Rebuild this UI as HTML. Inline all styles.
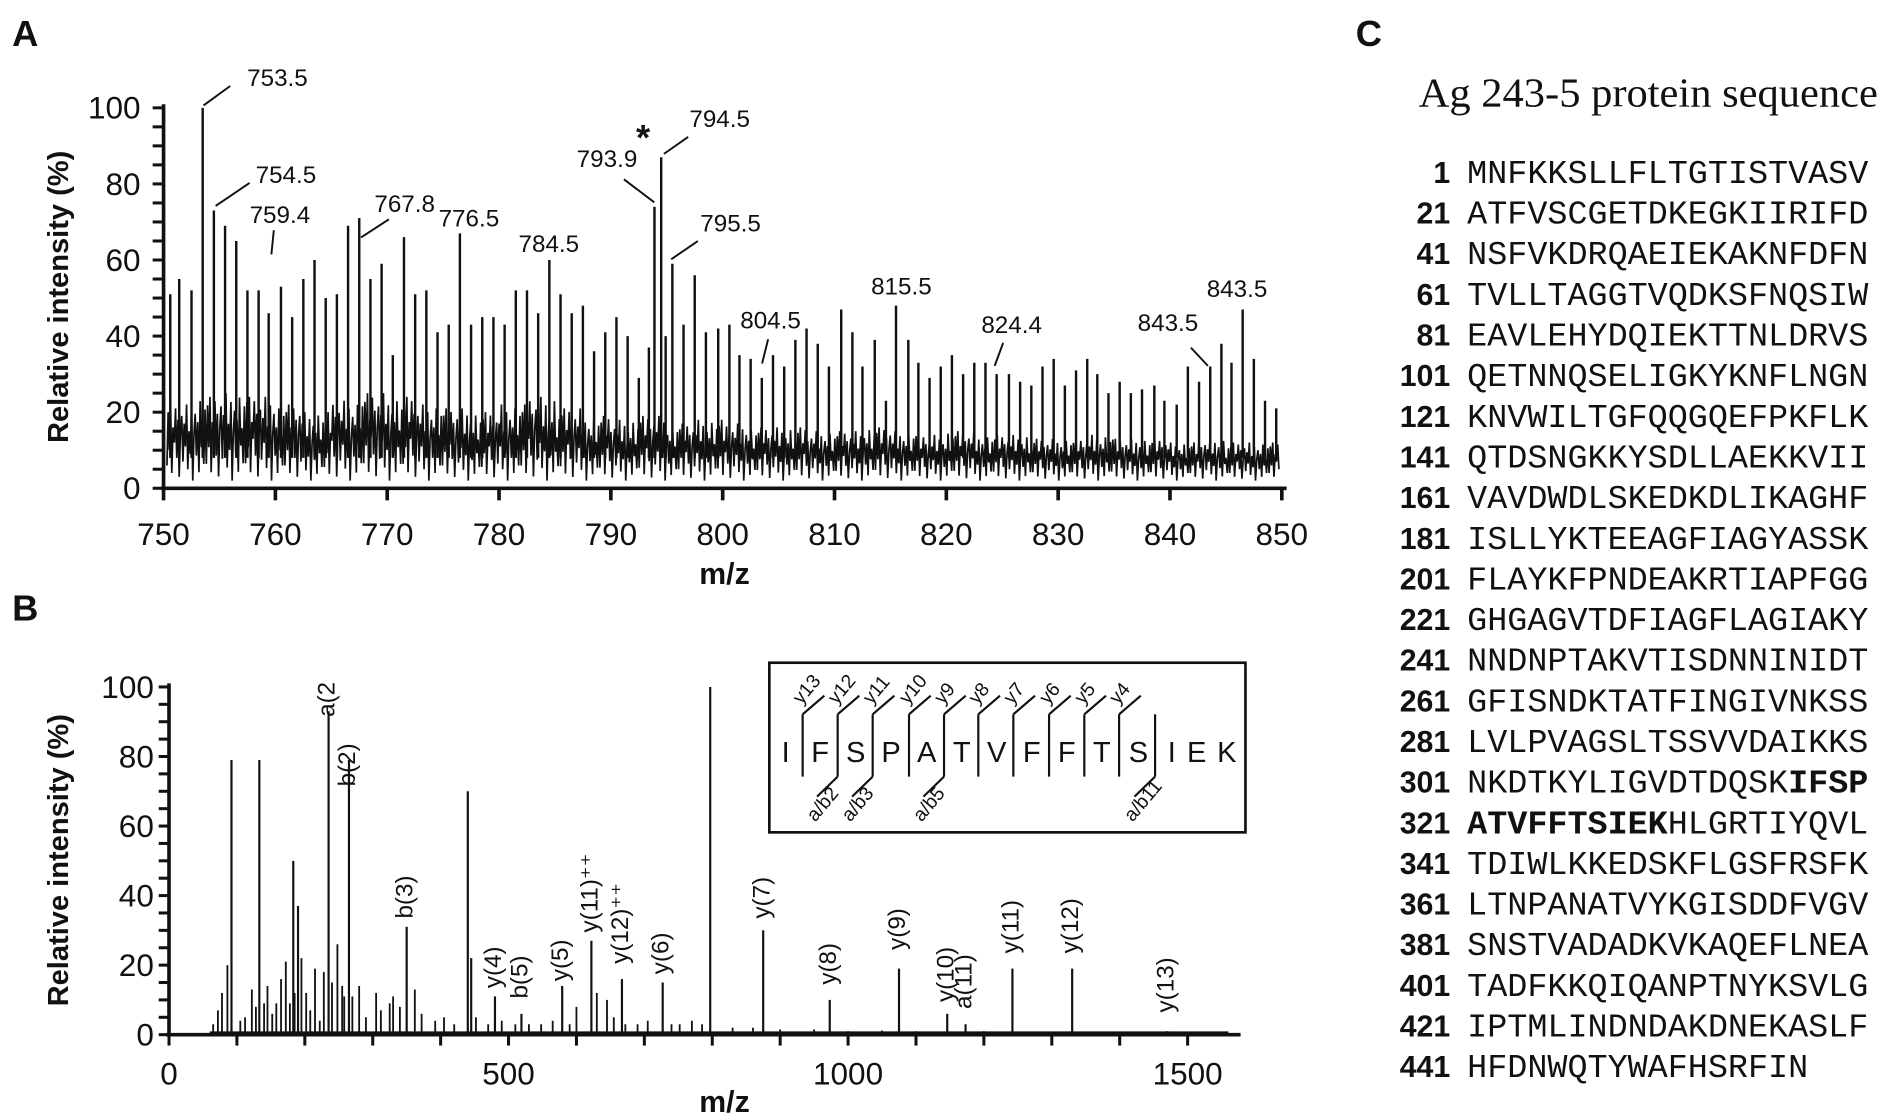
<!DOCTYPE html>
<html><head><meta charset="utf-8"><style>
html,body{margin:0;padding:0;background:#fff;}
svg{display:block;}
text{font-family:"Liberation Sans",sans-serif;fill:#111;}
.mono{font-family:"Liberation Mono",monospace;}
.serif{font-family:"Liberation Serif",serif;}
</style></head><body>
<svg id="fig" width="1890" height="1119" viewBox="0 0 1560 923.6" preserveAspectRatio="none" xmlns="http://www.w3.org/2000/svg">
<g font-weight="bold" font-size="30">
<text x="10" y="38">A</text>
<text x="10" y="512">B</text>
<text x="1119" y="38">C</text>
</g>
<g id="panelA"></g>
<g id="panelB"></g>
<g font-size="20" stroke="#111">
<line x1="168" y1="87" x2="190" y2="71" stroke-width="1.6"/><text x="204" y="71" stroke="none">753.5</text>
<line x1="178" y1="170" x2="206" y2="151" stroke-width="1.6"/><text x="211" y="151" stroke="none">754.5</text>
<line x1="224" y1="210" x2="226" y2="190" stroke-width="1.6"/><text x="206" y="184" stroke="none">759.4</text>
<line x1="298" y1="196" x2="321" y2="181" stroke-width="1.6"/><text x="309" y="175" stroke="none">767.8</text>
<text x="362" y="187" stroke="none">776.5</text>
<text x="428" y="208" stroke="none">784.5</text>
<text x="525" y="124" stroke="none" font-size="30" font-weight="bold">*</text>
<line x1="515" y1="148" x2="540" y2="167" stroke-width="1.6"/><text x="476" y="138" stroke="none">793.9</text>
<line x1="548" y1="127" x2="568" y2="113" stroke-width="1.6"/><text x="569" y="105" stroke="none">794.5</text>
<line x1="554" y1="214" x2="576" y2="199" stroke-width="1.6"/><text x="578" y="191" stroke="none">795.5</text>
<line x1="629" y1="300" x2="634" y2="280" stroke-width="1.6"/><text x="611" y="271" stroke="none">804.5</text>
<text x="719" y="243" stroke="none">815.5</text>
<line x1="821" y1="302" x2="828" y2="283" stroke-width="1.6"/><text x="810" y="275" stroke="none">824.4</text>
<line x1="983" y1="287" x2="997" y2="302" stroke-width="1.6"/><text x="939" y="273" stroke="none">843.5</text>
<text x="996" y="245" stroke="none">843.5</text>
</g>
<g>
<rect x="635" y="547" width="393" height="140" fill="none" stroke="#111" stroke-width="2.2"/>
<g id="insetG"></g>
</g>
<g>
<text class="serif" x="1171" y="88" font-size="34" textLength="379" lengthAdjust="spacingAndGlyphs">Ag 243-5 protein sequence</text>
<g id="seqG"></g>
</g>
</svg>
<script>
var NS="http://www.w3.org/2000/svg";
function mk(parent,tag,attrs,txt){var e=document.createElementNS(NS,tag);for(var k in attrs)e.setAttribute(k,attrs[k]);if(txt!==undefined)e.textContent=txt;parent.appendChild(e);return e;}

// ---------- Panel A data ----------
var peaksA_mz=[750.6,751.4,752.5,753.5,754.5,755.5,756.5,757.5,758.5,759.4,760.5,761.5,762.5,763.5,764.5,765.5,766.5,767.5,768.5,769.5,770.5,771.5,772.5,773.5,774.5,775.5,776.5,777.5,778.5,779.5,780.5,781.5,782.5,783.5,784.5,785.5,786.5,787.5,788.5,789.5,790.5,791.5,792.5,793.4,793.9,794.5,794.9,795.5,796.5,797.5,798.5,799.6,800.6,801.5,802.5,803.5,804.5,805.5,806.5,807.5,808.5,809.5,810.6,811.6,812.5,813.6,814.6,815.5,816.6,817.5,818.5,819.5,820.5,821.5,822.5,823.5,824.5,825.6,826.6,827.6,828.6,829.6,830.6,831.6,832.6,833.5,834.5,835.5,836.5,837.5,838.6,839.5,840.6,841.6,842.6,843.6,844.6,845.5,846.5,847.5,848.5,849.5];
var peaksA_int=[51,55,52,100,73,69,65,52,52,46,53,45,55,60,50,51,69,71,55,59,35,66,51,52,41,43,67,43,45,45,43,52,52,46,60,51,46,48,36,41,45,40,29,37,74,87,40,59,43,56,41,42,43,35,34,29,35,32,39,42,38,32,47,41,32,39,23,48,39,33,29,32,35,30,33,33,30,30,28,27,32,34,27,31,34,30,25,28,25,26,27,23,22,32,28,32,38,33,47,34,23,21];
var noiseA_high=[22,24,25,24,22,20,23,25,24,22,21,20,22,24,21,19,18,19,17,18,17,16,16,15,15,16,15,14,15,14,14,13,13,14,13,13,12,13,12,12,11];
var noiseA_jit=[0.2,0.9,0.4,1.0,0.1,0.7,0.5,0.95,0.3,0.8,0.05,0.6,0.85,0.25,0.75,0.45,1.0,0.15,0.65,0.35,0.9,0.0,0.55,0.8,0.3,0.7,0.1,0.95,0.4,0.6,0.2,0.85];
var ticksA_x=[750,760,770,780,790,800,810,820,830,840,850];
var ticksA_y=[0,20,40,60,80,100];

var xA=function(m){return 135+(m-750)*9.23;};
var yA=function(v){return 403-v*3.14;};
var A=document.getElementById('panelA');
(function(){
 var pts=[],i=0;
 for(var m=750.3;m<=849.8;m+=0.11){
  var k=Math.min(noiseA_high.length-1,Math.floor((m-750)/2.5));
  var hi=noiseA_high[k], lo=2;
  var v=lo+noiseA_jit[i%noiseA_jit.length]*(hi-lo);
  pts.push(xA(m).toFixed(1)+','+yA(v).toFixed(1)); i++;
 }
 var nl=mk(A,'polyline',{points:pts.join(' '),fill:'none',stroke:'#111','stroke-width':'1.4'});
 
 
 for(var j=0;j<peaksA_mz.length;j++){
  var ln=mk(A,'line',{x1:xA(peaksA_mz[j]),x2:xA(peaksA_mz[j]),y1:yA(8),y2:yA(peaksA_int[j]),stroke:'#111','stroke-width':'2'});
  
  
 }
 var ax=mk(A,'line',{x1:133,x2:1062,y1:403,y2:403,stroke:'#111','stroke-width':'3'});
 
 
 var ay=mk(A,'line',{x1:135,x2:135,y1:86,y2:404,stroke:'#111','stroke-width':'3'});
 
 
 ticksA_x.forEach(function(t){
  mk(A,'line',{x1:xA(t),x2:xA(t),y1:403,y2:413,stroke:'#111','stroke-width':'3'});
  var tl=mk(A,'text',{x:xA(t),y:450,'text-anchor':'middle','font-size':'26'},String(t));
  
  
 });
 for(var v=0;v<=100;v+=5){mk(A,'line',{x1:126,x2:135,y1:yA(v),y2:yA(v),stroke:'#111','stroke-width':'2.5'});}
 ticksA_y.forEach(function(t){
  var tl=mk(A,'text',{x:116,y:yA(t)+9,'text-anchor':'end','font-size':'26'},String(t));
  
  
 });
 var xt=mk(A,'text',{x:598,y:482,'text-anchor':'middle','font-size':'25','font-weight':'bold'},'m/z');
 
 
 var yt=mk(A,'text',{x:0,y:0,'text-anchor':'middle','font-size':'24','font-weight':'bold',transform:'translate(56,245) rotate(-90)'},'Relative intensity (%)');
 
 
})();

// ---------- Panel B data ----------
var peaksB_mz=[92,133,183,190,235,265,350,440,445,480,519,579,622,667,727,797,875,973,1075,1146,1173,1242,1330,1470];
var peaksB_int=[79,79,50,37,93,79,31,70,22,11,6,14,27,16,15,100,30,10,19,6,3,19,19,1];
var smallB_mz=[65,72,78,86,105,112,122,128,140,145,152,158,165,172,178,185,195,202,208,215,222,228,240,248,255,258,270,280,290,305,312,325,330,340,362,372,392,405,420,452,470,490,510,530,548,565,590,600,630,645,655,672,690,705,740,752,770,785,830,860,900,950,1000,1050,1100,1200,1300,1400];
var smallB_int=[3,7,12,20,4,5,13,8,9,14,6,9,16,21,9,12,22,12,7,19,4,18,15,26,14,11,11,14,5,12,7,9,11,8,13,6,4,5,3,5,3,4,3,3,3,4,3,8,12,10,5,3,3,4,3,3,4,3,2,2,1.5,1.5,1,1.2,1,1,0.8,0.7];
var labelsB_text=['a(2','b(2)','b(3)','y(4)','b(5)','y(5)','y(11)\u207A\u207A','y(12)\u207A\u207A','y(6)','y(7)','y(8)','y(9)','y(10)','a(11)','y(11)','y(12)','y(13)'];
var labelsB_mz=[235,265,350,480,519,579,622,667,727,875,973,1075,1146,1173,1242,1330,1470];
var labelsB_base=[90,70,32,12,9,14,28,19,16,32,13,23,8,6,22,22,5];
var ticksB_x=[0,500,1000,1500];
var ticksB_y=[0,20,40,60,80,100];

var xB=function(m){return 139.5+m*0.5605;};
var yB=function(v){return 854-v*2.87;};
var B=document.getElementById('panelB');
(function(){
 var base=mk(B,'line',{x1:xB(60),x2:xB(1560),y1:yB(0.6),y2:yB(0.6),stroke:'#111','stroke-width':'2'});
 
 
 for(var i=0;i<smallB_mz.length;i++){
  var s=mk(B,'line',{x1:xB(smallB_mz[i]),x2:xB(smallB_mz[i]),y1:yB(0),y2:yB(smallB_int[i]),stroke:'#111','stroke-width':'1.5'});
  
  
 }
 for(var j=0;j<peaksB_mz.length;j++){
  var p=mk(B,'line',{x1:xB(peaksB_mz[j]),x2:xB(peaksB_mz[j]),y1:yB(0),y2:yB(peaksB_int[j]),stroke:'#111','stroke-width':'1.8'});
  
  
 }
 for(var k=0;k<labelsB_text.length;k++){
  var lx=xB(labelsB_mz[k]), ly=yB(labelsB_base[k])-4;
  var t=mk(B,'text',{x:0,y:0,'font-size':'20',transform:'translate('+(lx+5)+','+ly+') rotate(-90)'},labelsB_text[k]);
  
  
 }
 var ax=mk(B,'line',{x1:137,x2:1024,y1:854,y2:854,stroke:'#111','stroke-width':'3'});
 
 
 var ay=mk(B,'line',{x1:139.5,x2:139.5,y1:564,y2:855,stroke:'#111','stroke-width':'3'});
 
 
 for(var m=0;m<=1500;m+=100){mk(B,'line',{x1:xB(m),x2:xB(m),y1:854,y2:863,stroke:'#111','stroke-width':'2.5'});}
 ticksB_x.forEach(function(t){
  var tl=mk(B,'text',{x:xB(t),y:895,'text-anchor':'middle','font-size':'26'},String(t));
  
  
 });
 for(var v=0;v<=100;v+=5){mk(B,'line',{x1:131,x2:139.5,y1:yB(v),y2:yB(v),stroke:'#111','stroke-width':'2.5'});}
 ticksB_y.forEach(function(t){
  var tl=mk(B,'text',{x:127,y:yB(t)+9,'text-anchor':'end','font-size':'26'},String(t));
  
  
 });
 var xt=mk(B,'text',{x:598,y:918,'text-anchor':'middle','font-size':'25','font-weight':'bold'},'m/z');
 
 
 var yt=mk(B,'text',{x:0,y:0,'text-anchor':'middle','font-size':'24','font-weight':'bold',transform:'translate(56,710) rotate(-90)'},'Relative intensity (%)');
 
 
})();

// ---------- Inset ----------
var insetLetters=['I','F','S','P','A','T','V','F','F','T','S','I','E','K'];
var insetLetterX=[648.5,676.9,706.3,735.5,764.9,793.8,822.7,851.6,880.5,909.4,939.7,967.2,987.8,1012.6];
var dividerX=[662.5,691.4,720.3,750.3,779.2,807.5,836.4,865.9,895.0,923.7,953.4];
var yIons=['y13','y12','y11','y10','y9','y8','y7','y6','y5','y4',''];
var bIons=['','a/b2','a/b3','','a/b5','','','','','','a/b11'];
(function(){
 var G=document.getElementById('insetG');
 insetLetters.forEach(function(L,i){
  var t=mk(G,'text',{x:insetLetterX[i],y:629,'text-anchor':'middle','font-size':'24'},L);
  
  
 });
 dividerX.forEach(function(dx,i){
  mk(G,'line',{x1:dx,x2:dx,y1:589.6,y2:641,stroke:'#111','stroke-width':'1.8'});
  if(yIons[i]){
   mk(G,'line',{x1:dx,x2:dx+17.9,y1:589.6,y2:574.2,stroke:'#111','stroke-width':'1.8'});
   var t=mk(G,'text',{x:0,y:0,'font-size':'16',transform:'translate('+(dx-1)+',582) rotate(-50)'},yIons[i]);
   
   
  }
  if(bIons[i]){
   mk(G,'line',{x1:dx,x2:dx-17,y1:641,y2:657.5,stroke:'#111','stroke-width':'1.8'});
   var b=mk(G,'text',{x:0,y:0,'font-size':'16',transform:'translate('+(dx-18.5)+',679) rotate(-50)'},bIons[i]);
   
   
  }
 });
})();

// ---------- Sequence ----------
var seqNums=[1,21,41,61,81,101,121,141,161,181,201,221,241,261,281,301,321,341,361,381,401,421,441];
var seqRows=['MNFKKSLLFLTGTISTVASV','ATFVSCGETDKEGKIIRIFD','NSFVKDRQAEIEKAKNFDFN','TVLLTAGGTVQDKSFNQSIW','EAVLEHYDQIEKTTNLDRVS','QETNNQSELIGKYKNFLNGN','KNVWILTGFQQGQEFPKFLK','QTDSNGKKYSDLLAEKKVII','VAVDWDLSKEDKDLIKAGHF','ISLLYKTEEAGFIAGYASSK','FLAYKFPNDEAKRTIAPFGG','GHGAGVTDFIAGFLAGIAKY','NNDNPTAKVTISDNNINIDT','GFISNDKTATFINGIVNKSS','LVLPVAGSLTSSVVDAIKKS','NKDTKYLIGVDTDQSK|IFSP','|ATVFFTSIEK|HLGRTIYQVL','TDIWLKKEDSKFLGSFRSFK','LTNPANATVYKGISDDFVGV','SNSTVADADKVKAQEFLNEA','TADFKKQIQANPTNYKSVLG','IPTMLINDNDAKDNEKASLF','HFDNWQTYWAFHSRFIN'];
(function(){
 var G=document.getElementById('seqG');
 seqNums.forEach(function(n,i){
  var y=151+i*33.55;
  var nt=mk(G,'text',{x:1197,y:y,'text-anchor':'end','font-size':'25','font-weight':'bold'},String(n));
  
  
  var st=mk(G,'text',{x:1211,y:y,'class':'mono','font-size':'27.6'});
  
  
  var parts=seqRows[i].split('|'), bold=false;
  parts.forEach(function(p){
   if(p){mk(st,'tspan',bold?{'font-weight':'bold'}:{},p);}
   bold=!bold;
  });
 });
})();
</script>
</body></html>
